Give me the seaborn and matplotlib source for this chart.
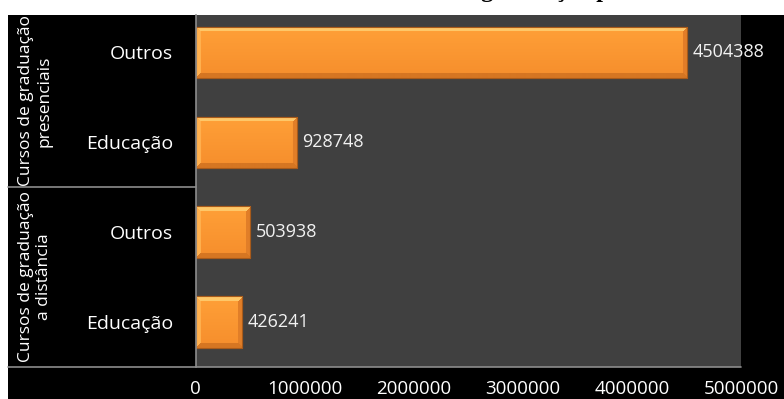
import numpy as np
import pandas as pd
import matplotlib
matplotlib.use("Agg")
import matplotlib.pyplot as plt
from matplotlib.patches import Rectangle
from matplotlib.lines import Line2D
import seaborn as sns

# Data
grupos = ["Cursos de graduação\npresenciais", "Cursos de graduação\na distância"]
categorias = ["Outros", "Educação", "Outros", "Educação"]
grupo_idx = [0, 0, 1, 1]
matriculas = [4504388, 928748, 503938, 426241]
x_ticks = [0, 1000000, 2000000, 3000000, 4000000, 5000000]
titulo = "Matrículas em cursos de graduação por modalidade"

df = pd.DataFrame({
    "rotulo": [f"{g}|{c}" for g, c in zip(grupo_idx, categorias)],
    "categoria": categorias,
    "matriculas": matriculas,
})

sns.set_theme(style="white")
plt.rcParams["font.family"] = ["Open Sans", "DejaVu Sans"]

W, H = 784, 399
fig = plt.figure(figsize=(W / 100, H / 100), dpi=100, facecolor="white")

# black panel behind the chart
bg = fig.add_axes([8 / W, 0, 1 - 8 / W, (H - 15) / H], zorder=0)
bg.set_facecolor("black")
bg.set_xticks([])
bg.set_yticks([])
for s in bg.spines.values():
    s.set_visible(False)

left, right, top, bottom = 195.5, 741, 15, 367
ax = fig.add_axes([left / W, 1 - bottom / H, (right - left) / W, (bottom - top) / H], zorder=2)
ax.set_facecolor("#404040")

BAR = "#FF9933"
sns.barplot(data=df, x="matriculas", y="rotulo", orient="h", color=BAR,
            width=0.574, saturation=1, edgecolor="#A85A1A", linewidth=0.8, ax=ax)

ax.set_xlim(0, 5000000)
ax.set_ylim(3.5, -0.417)

# bevelled face for each bar
fig.canvas.draw()
for p in list(ax.patches):
    bb = p.get_window_extent()
    wpx, hpx = max(int(round(bb.width)), 2), max(int(round(bb.height)), 2)
    t = np.linspace(0, 1, hpx)[:, None, None]
    base_top = np.array([255, 160, 56]) / 255
    base_bot = np.array([246, 142, 44]) / 255
    img = np.broadcast_to(base_top * (1 - t) + base_bot * t, (hpx, wpx, 3)).copy()
    b = 5
    yy, xx = np.mgrid[0:hpx, 0:wpx]
    dist = np.stack([yy, hpx - 1 - yy, xx, wpx - 1 - xx])
    dmin = dist.min(axis=0)
    zone = dist.argmin(axis=0)
    edge = dmin < b
    cols = {0: np.array([255, 200, 105]) / 255,
            1: np.array([214, 118, 34]) / 255,
            2: np.array([255, 176, 78]) / 255,
            3: np.array([226, 126, 40]) / 255}
    for z, c in cols.items():
        img[edge & (zone == z)] = c
    x0, x1 = p.get_x(), p.get_x() + p.get_width()
    y0, y1 = p.get_y(), p.get_y() + p.get_height()
    im = ax.imshow(img, extent=(x0, x1, y1, y0), origin="upper", aspect="auto",
                   interpolation="bilinear", zorder=p.get_zorder() + 0.1)
    im.set_clip_path(p)
    ax.add_patch(Rectangle((x0, y0), x1 - x0, y1 - y0, facecolor="none",
                           edgecolor="#A85A1A", linewidth=0.8,
                           zorder=p.get_zorder() + 0.2))

ax.set_xlim(0, 5000000)
ax.set_ylim(3.5, -0.417)

# value labels
for i, v in enumerate(matriculas):
    ax.annotate(f"{v}", xy=(v, i), xytext=(4, 0), textcoords="offset points",
                va="center", ha="left", color="#F2F2F2", fontsize=13)

# axes styling
for s in ["top", "right", "bottom"]:
    ax.spines[s].set_visible(False)
ax.spines["left"].set_color("#8C8C8C")
ax.spines["left"].set_linewidth(1.2)

ax.set_xticks(x_ticks)
ax.set_xticklabels([str(x) for x in x_ticks], color="white", fontsize=13.5)
ax.tick_params(axis="x", length=0, pad=9)
ax.set_yticks(range(len(categorias)))
ax.set_yticklabels(categorias, color="white", fontsize=14)
ax.tick_params(axis="y", length=0, pad=16)
ax.set_xlabel("")
ax.set_ylabel("")

# group separators and group labels
sep_y = 1 - 187 / H
bot_y = 1 - bottom / H
fig.add_artist(Line2D([8 / W, left / W], [sep_y, sep_y], transform=fig.transFigure,
                      color="#8C8C8C", linewidth=1.2, zorder=5))
fig.add_artist(Line2D([8 / W, right / W], [bot_y, bot_y], transform=fig.transFigure,
                      color="#8C8C8C", linewidth=1.2, zorder=5))
for g, (ya, yb) in zip(grupos, [(15, 187), (187, 367)]):
    fig.text(35 / W, 1 - (ya + yb) / 2 / H, g, rotation=90, ha="center", va="center",
             color="white", fontsize=12.5, multialignment="center", linespacing=1.25,
             zorder=5)

# title sitting above the top edge
fig.canvas.draw()
r = fig.canvas.get_renderer()
prefix = titulo.split("graduação")[0]
tp = fig.text(0, 0, prefix, family="Liberation Serif", weight="bold", fontsize=17.5)
pw = tp.get_window_extent(r).width
tp.remove()
fig.text((481 - pw) / W, 1 + 3 / H, titulo, family="Liberation Serif", weight="bold",
         fontsize=17.5, ha="left", va="baseline", color="black")

fig.savefig("out.png", dpi=100, facecolor="white")
